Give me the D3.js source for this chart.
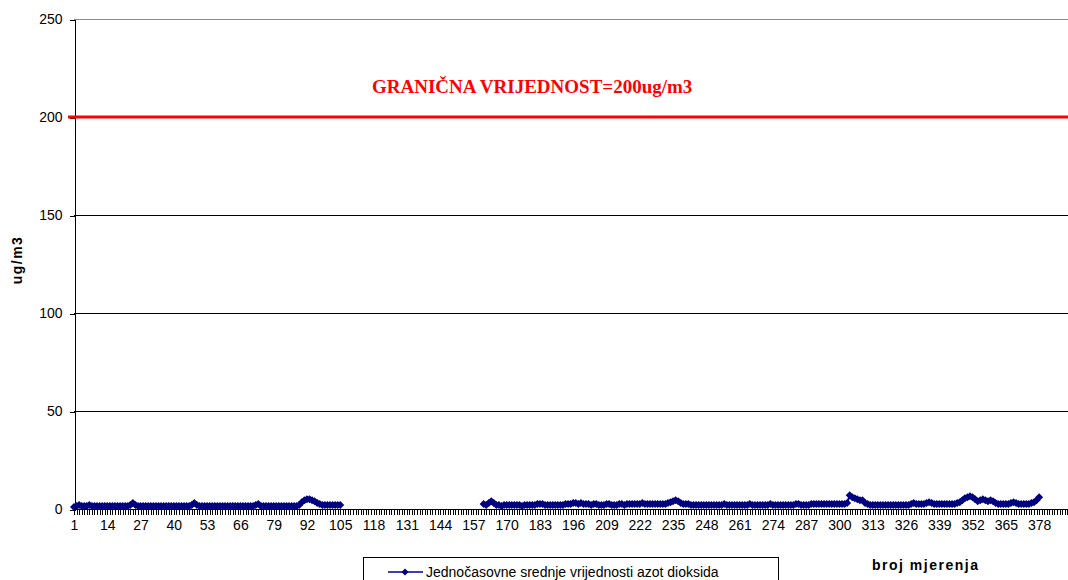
<!DOCTYPE html>
<html>
<head>
<meta charset="utf-8">
<script src="https://cdn.jsdelivr.net/npm/d3@7"></script>
<style>
  html, body { margin: 0; padding: 0; background: #fff; }
  svg { display: block; }
</style>
</head>
<body>
<svg id="chart" width="1068" height="580"></svg>
<script>
// ---- DATA ----
const categories = d3.range(1, 391);
const tickLabels = [1,14,27,40,53,66,79,92,105,118,131,144,157,170,183,196,209,222,235,248,261,274,287,300,313,326,339,352,365,378];
const yTicks = [0, 50, 100, 150, 200, 250];
const limitValue = 200;
const limitLabel = "GRANIČNA VRIJEDNOST=200ug/m3";
const seriesName = "Jednočasovne srednje vrijednosti azot dioksida";
const xTitle = "broj mjerenja";
const yTitle = "ug/m3";

const seg1Start = 1;
const seg1Values = [
  1, 1.5, 2, 1.5, 1.5, 1.5, 2, 1.5, 1.5, 1.5,
  1.5, 1.5, 1.5, 1.5, 1.5, 1.5, 1.5, 1.5, 1.5, 1.5,
  1.5, 1.5, 2, 3, 2, 1.5, 1.5, 1.5, 1.5, 1.5,
  1.5, 1.5, 1.5, 1.5, 1.5, 1.5, 1.5, 1.5, 1.5, 1.5,
  1.5, 1.5, 1.5, 1.5, 1.5, 1.5, 2, 3, 2, 1.5,
  1.5, 1.5, 1.5, 1.5, 1.5, 1.5, 1.5, 1.5, 1.5, 1.5,
  1.5, 1.5, 1.5, 1.5, 1.5, 1.5, 1.5, 1.5, 1.5, 1.5,
  1.5, 2, 2.5, 1.5, 1.5, 1.5, 1.5, 1.5, 1.5, 1.5,
  1.5, 1.5, 1.5, 1.5, 1.5, 1.5, 1.5, 1.5, 2, 3.5,
  4.5, 5, 5, 4.5, 4, 3, 2.5, 2, 2, 2,
  2, 2, 2, 2, 2
];

const seg2Start = 161;
const seg2Values = [
  2.5, 2, 3, 4, 3, 2, 2, 1.5, 2, 2,
  2, 2, 2, 2, 2, 1.5, 2, 2, 2, 2,
  2, 2.5, 2.5, 2.5, 2, 2, 2, 2, 2, 2,
  2, 2, 2.5, 2.5, 2.5, 3, 3, 2.5, 3, 2.5,
  2.5, 2.5, 2, 2.5, 2.5, 2, 2, 2, 2.5, 2.5,
  2, 2, 2, 2.5, 2.5, 2, 2.5, 2.5, 2.5, 2.5,
  2.5, 2.5, 3, 2.5, 2.5, 2.5, 2.5, 2.5, 2.5, 2.5,
  2.5, 2.5, 3, 3.5, 4, 4.5, 4, 3, 2.5, 2.5,
  2.5, 2, 2, 2, 2, 2, 2, 2, 2, 2,
  2, 2, 2, 2, 2.5, 2, 2, 2, 2, 2,
  2, 2, 2, 2, 2.5, 2, 2, 2, 2, 2,
  2, 2, 2.5, 2, 2, 2, 2, 2, 2, 2,
  2, 2, 2.5, 2.5, 2, 2, 2, 2, 2.5, 2.5,
  2.5, 2.5, 2.5, 2.5, 2.5, 2.5, 2.5, 2.5, 2.5, 2.5,
  2.5, 2.5, 3, 7, 6, 5.5, 5, 4.5, 4.5, 3,
  2.5, 2, 2, 2, 2, 2, 2, 2, 2, 2,
  2, 2, 2, 2, 2, 2, 2, 2.5, 3, 2.5,
  2.5, 2.5, 2.5, 3, 3.5, 3, 2.5, 2.5, 2.5, 2.5,
  2.5, 2.5, 2.5, 2.5, 2.5, 3, 3.5, 4.5, 5.5, 6,
  6.5, 6, 5, 4, 4.5, 5, 4.5, 4, 4.5, 4,
  3, 2.5, 2.5, 2.5, 2.5, 2.5, 3, 3.5, 3, 2.5,
  2.5, 2.5, 2.5, 2.5, 3, 3.5, 4.5, 6
];

// ---- BUILD ----
const valueByCat = new Map();
seg1Values.forEach((v, i) => valueByCat.set(seg1Start + i, v));
seg2Values.forEach((v, i) => valueByCat.set(seg2Start + i, v));
const series = categories.map(c => ({ c, v: valueByCat.has(c) ? valueByCat.get(c) : null }));

const svg = d3.select("#chart");
const W = 1068, H = 580;
const plotLeft = 74, plotRight = 1068, plotTop = 19, plotBottom = 509;

const x = d3.scaleLinear().domain([1, 390]).range([plotLeft, plotLeft + 2.56 * 389]);
const y = d3.scaleLinear().domain([0, 250]).range([plotBottom, plotTop]);

svg.append("rect").attr("width", W).attr("height", H).attr("fill", "#fff");

// gridlines
svg.append("g").selectAll("line")
  .data(yTicks.filter(t => t > 0))
  .join("line")
  .attr("x1", plotLeft).attr("x2", plotRight)
  .attr("y1", d => Math.round(y(d)) + 0.5).attr("y2", d => Math.round(y(d)) + 0.5)
  .attr("stroke", d => d === 250 ? "#8a8a8a" : "#000")
  .attr("stroke-width", 1)
  .attr("shape-rendering", "crispEdges");

// y axis
const yAxis = d3.axisLeft(y).tickValues(yTicks).tickSize(5).tickPadding(7);
const gy = svg.append("g").attr("transform", `translate(${plotLeft + 0.5},0.5)`).call(yAxis);
gy.select(".domain").attr("stroke", "#000").attr("shape-rendering", "crispEdges");
gy.selectAll(".tick line").attr("stroke", "#000").attr("shape-rendering", "crispEdges");
gy.selectAll(".tick text").attr("font-family", "'Liberation Sans', Arial, sans-serif")
  .attr("font-size", 14).attr("fill", "#000");

// x axis
const xAxis = d3.axisBottom(x).tickValues(categories).tickSize(5).tickPadding(6)
  .tickFormat(d => tickLabels.includes(d) ? d : "");
const gx = svg.append("g").attr("transform", `translate(0,${plotBottom + 0.5})`).call(xAxis);
gx.select(".domain").attr("d", `M${plotLeft},0H${plotRight}`).attr("stroke", "#000").attr("shape-rendering", "crispEdges");
gx.selectAll(".tick line").attr("stroke", "#000").attr("stroke-width", 1).attr("shape-rendering", "crispEdges");
gx.selectAll(".tick text").attr("font-family", "'Liberation Sans', Arial, sans-serif")
  .attr("font-size", 14).attr("fill", "#000");

// limit line
svg.append("line")
  .attr("x1", plotLeft - 6).attr("x2", plotRight)
  .attr("y1", y(limitValue)).attr("y2", y(limitValue))
  .attr("stroke", "#ff0000").attr("stroke-width", 3);

svg.append("text")
  .attr("x", 372).attr("y", 93)
  .attr("font-family", "'Liberation Serif', 'Times New Roman', serif")
  .attr("font-size", 19).attr("font-weight", "bold")
  .attr("fill", "#ff0000")
  .text(limitLabel);

// series line
const line = d3.line().defined(d => d.v != null).x(d => x(d.c)).y(d => y(d.v));
svg.append("path").datum(series)
  .attr("d", line).attr("fill", "none")
  .attr("stroke", "#000080").attr("stroke-width", 2);

const diamond = "M0,-4L4,0L0,4L-4,0Z";
svg.append("g").selectAll("path")
  .data(series.filter(d => d.v != null))
  .join("path")
  .attr("d", diamond)
  .attr("transform", d => `translate(${x(d.c)},${y(d.v)})`)
  .attr("fill", "#000080");

// axis titles
svg.append("text")
  .attr("transform", `translate(22,260) rotate(-90)`)
  .attr("text-anchor", "middle")
  .attr("font-family", "'Liberation Sans', Arial, sans-serif")
  .attr("font-size", 14).attr("font-weight", "bold")
  .attr("letter-spacing", 1.5)
  .text(yTitle);

svg.append("text")
  .attr("x", 872).attr("y", 570)
  .attr("font-family", "'Liberation Sans', Arial, sans-serif")
  .attr("font-size", 14).attr("font-weight", "bold")
  .attr("letter-spacing", 1.5)
  .text(xTitle);

// legend
const lg = svg.append("g");
lg.append("rect")
  .attr("x", 363.5).attr("y", 557.5).attr("width", 415).attr("height", 40)
  .attr("fill", "#fff").attr("stroke", "#000").attr("stroke-width", 1);
lg.append("line").attr("x1", 388).attr("x2", 423).attr("y1", 572).attr("y2", 572)
  .attr("stroke", "#000080").attr("stroke-width", 1.5);
lg.append("path").attr("d", "M0,-3.5L3.5,0L0,3.5L-3.5,0Z").attr("transform", "translate(405,572)").attr("fill", "#000080");
lg.append("text")
  .attr("x", 426).attr("y", 577)
  .attr("font-family", "'Liberation Sans', Arial, sans-serif")
  .attr("font-size", 14).attr("fill", "#000")
  .text(seriesName);
</script>
</body>
</html>
